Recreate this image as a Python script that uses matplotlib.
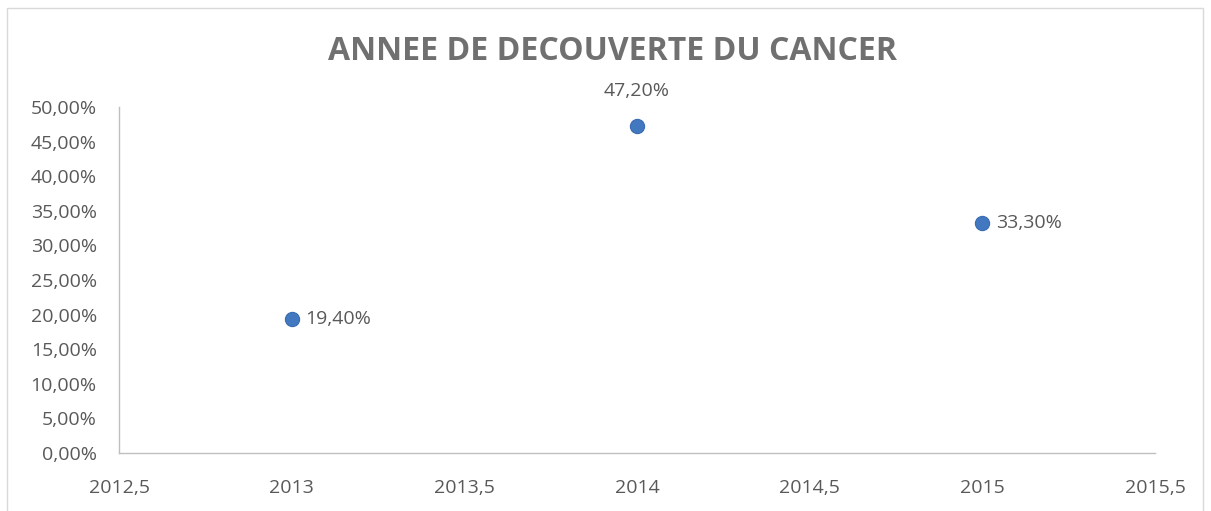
import matplotlib.pyplot as plt
from matplotlib.patches import Rectangle
from matplotlib.ticker import FuncFormatter, MultipleLocator

# Data
years = [2013, 2014, 2015]
shares = [19.40, 47.20, 33.30]
label_pos = ['right', 'top', 'right']
title = 'ANNEE DE DECOUVERTE DU CANCER'

plt.rcParams['font.family'] = ['Open Sans', 'DejaVu Sans']
text_color = '#595959'

fig = plt.figure(figsize=(12.11, 5.11), dpi=100)
fig.patches.append(Rectangle((7 / 1211, -0.05), (1203 - 7) / 1211, 1.05 - 8 / 511,
                             transform=fig.transFigure, fill=False,
                             edgecolor='#d9d9d9', linewidth=1))

ax = fig.add_axes([119 / 1211, 58 / 511, (1155 - 119) / 1211, (453 - 107) / 511])
ax.scatter(years, shares, s=105, color='#4278c0', edgecolors='#3a6cb0', linewidths=0.8, zorder=3)

for x, y, pos in zip(years, shares, label_pos):
    txt = f'{y:.2f}%'.replace('.', ',')
    if pos == 'right':
        ax.annotate(txt, (x, y), xytext=(10, 0), textcoords='offset points',
                    ha='left', va='center', fontsize=14, color=text_color)
    else:
        ax.annotate(txt, (x, y), xytext=(0, 19), textcoords='offset points',
                    ha='center', va='bottom', fontsize=14, color=text_color)

ax.set_xlim(2012.5, 2015.5)
ax.set_ylim(0, 50)
ax.xaxis.set_major_locator(MultipleLocator(0.5))
ax.yaxis.set_major_locator(MultipleLocator(5))
ax.xaxis.set_major_formatter(FuncFormatter(lambda v, p: (f'{v:g}').replace('.', ',')))
ax.yaxis.set_major_formatter(FuncFormatter(lambda v, p: f'{v:.2f}%'.replace('.', ',')))

for side in ['top', 'right']:
    ax.spines[side].set_visible(False)
for side in ['left', 'bottom']:
    ax.spines[side].set_color('#bfbfbf')
    ax.spines[side].set_linewidth(1)
ax.tick_params(length=0, labelsize=14, labelcolor=text_color)
ax.tick_params(axis='x', pad=19)
ax.tick_params(axis='y', pad=16)
for lbl in ax.get_yticklabels():
    lbl.set_ha('right')

fig.text(612 / 1211, 1 - 52 / 511, title, ha='center', va='center',
         fontsize=23, fontweight='bold', color='#707070')

fig.savefig('out.png', dpi=100)
